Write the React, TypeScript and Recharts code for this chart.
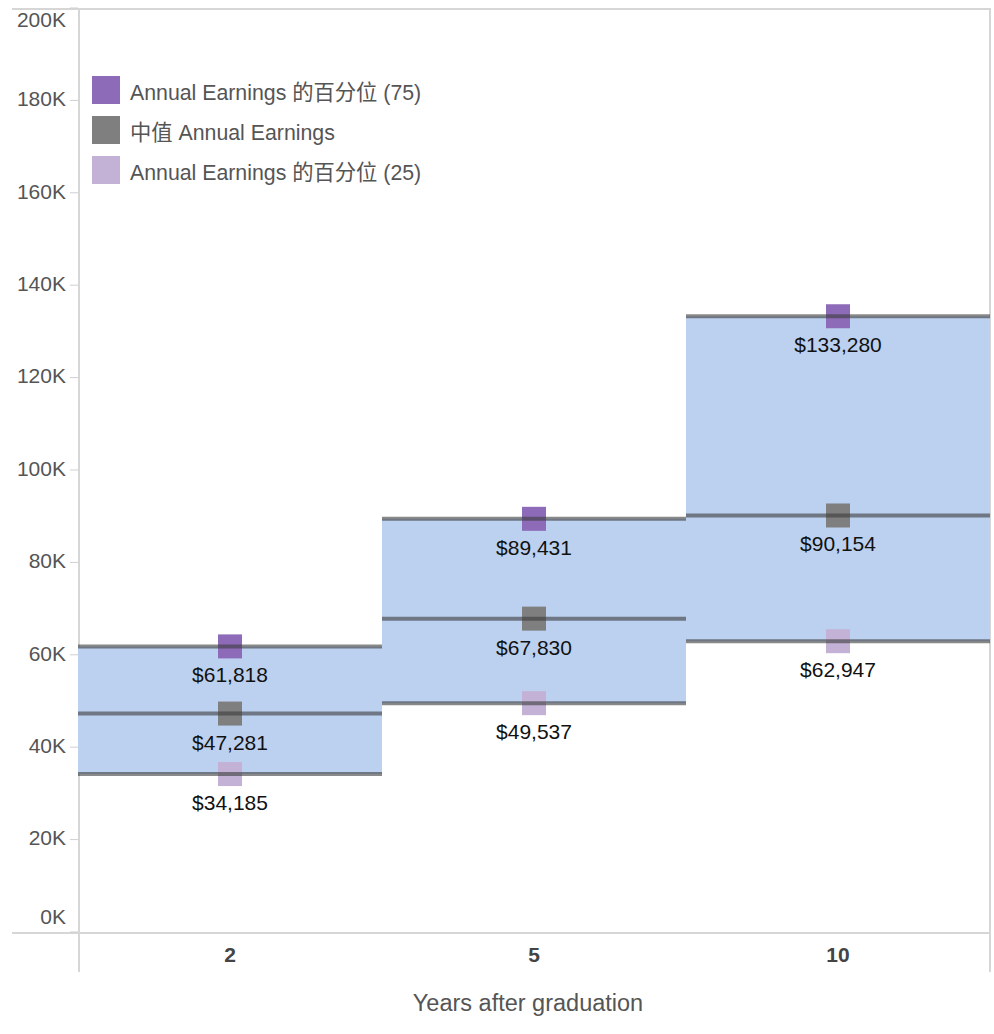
import React from "react";
import {
  ComposedChart,
  Bar,
  XAxis,
  YAxis,
  LabelList,
  Legend,
  Label,
  Customized,
} from "recharts";

const years = ["2", "5", "10"];
const p75 = [61818, 89431, 133280];
const median = [47281, 67830, 90154];
const p25 = [34185, 49537, 62947];
const yTicks = [0, 20000, 40000, 60000, 80000, 100000, 120000, 140000, 160000, 180000, 200000];

const seriesNames = [
  "Annual Earnings 的百分位 (75)",
  "中值 Annual Earnings",
  "Annual Earnings 的百分位 (25)",
];
const seriesColors = ["#8e6bb8", "#7f7f7f", "#c3b2d6"];

const data = years.map((year, i) => ({
  year,
  p75: p75[i],
  median: median[i],
  p25: p25[i],
}));

const FONT = '"Liberation Sans", Arial, "Noto Sans CJK SC", sans-serif';
const W = 994;
const H = 1034;
const MARGIN = { top: 8, right: 4, bottom: 0, left: 0 };
const Y_WIDTH = 78;
const X_HEIGHT = 102;
const FRAME = "#d6d6d6";

const money = (v: number) => `$${v.toLocaleString("en-US")}`;

// marker square + level line across the whole band
const LevelMark = (props: any) => {
  const { x, y, width, color } = props;
  const cx = x + width / 2;
  return (
    <g>
      <rect x={cx - 12} y={y - 12} width={24} height={24} fill={color} />
      <line
        x1={x}
        x2={x + width}
        y1={y}
        y2={y}
        stroke="#3a3a3a"
        strokeOpacity={0.6}
        strokeWidth={4}
      />
    </g>
  );
};

const ValueLabel = (props: any) => {
  const vb = props.viewBox || {};
  const x = props.x ?? vb.x;
  const y = props.y ?? vb.y;
  const width = props.width ?? vb.width;
  return (
    <text
      x={x + width / 2}
      y={y + 36}
      textAnchor="middle"
      fill="#111"
      fontSize={21}
      fontFamily={FONT}
    >
      {money(Number(props.value))}
    </text>
  );
};

const YTick = (props: any) => {
  const { x, y, payload } = props;
  let shift = 0;
  if (payload.value === 200000) shift = 13;
  if (payload.value === 0) shift = -14;
  return (
    <text
      x={x}
      y={y + shift}
      dy="0.28em"
      textAnchor="end"
      fill="#555"
      fontSize={21}
      fontFamily={FONT}
    >
      {payload.value / 1000}K
    </text>
  );
};

const XTick = (props: any) => {
  const { x, y, payload } = props;
  return (
    <text
      x={x}
      y={y + 30}
      textAnchor="middle"
      fill="#444"
      fontSize={21}
      fontWeight="bold"
      fontFamily={FONT}
    >
      {payload.value}
    </text>
  );
};

// light frame: top rule, baseline, left and right edges running into the axis area
const Frame = () => {
  const left = MARGIN.left + Y_WIDTH;
  const right = W - MARGIN.right;
  const top = MARGIN.top;
  const bottom = H - MARGIN.bottom - X_HEIGHT;
  return (
    <g>
      <line x1={12} x2={right} y1={top + 1} y2={top + 1} stroke={FRAME} strokeWidth={2} />
      <line x1={12} x2={right} y1={bottom + 1} y2={bottom + 1} stroke={FRAME} strokeWidth={2} />
      <line x1={left + 1} x2={left + 1} y1={top} y2={bottom + 40} stroke={FRAME} strokeWidth={2} />
      <line x1={right} x2={right} y1={top} y2={bottom + 40} stroke={FRAME} strokeWidth={2} />
    </g>
  );
};

const LegendBox = () => (
  <div style={{ fontFamily: FONT }}>
    {seriesNames.map((name, i) => (
      <div
        key={name}
        style={{ display: "flex", alignItems: "center", height: 28, marginBottom: 12 }}
      >
        <div style={{ width: 28, height: 28, background: seriesColors[i], marginRight: 10 }} />
        <span style={{ fontSize: 21.3, color: "#555", lineHeight: "28px", paddingTop: 5 }}>
          {name}
        </span>
      </div>
    ))}
  </div>
);

const levels = [
  { key: "p75", axis: "a", color: seriesColors[0] },
  { key: "median", axis: "b", color: seriesColors[1] },
  { key: "p25", axis: "c", color: seriesColors[2] },
];

const App = () => {
  return (
    <div style={{ position: "absolute", left: 0, top: 0, background: "#fff" }}>
      <ComposedChart
        width={W}
        height={H}
        data={data}
        margin={MARGIN}
        barCategoryGap={0}
        barGap={0}
      >
        <Customized component={Frame} />
        <XAxis
          xAxisId="main"
          dataKey="year"
          height={X_HEIGHT}
          axisLine={false}
          tickLine={false}
          tickSize={0}
          tickMargin={0}
          tick={<XTick />}
        >
          <Label
            value="Years after graduation"
            position="insideBottom"
            offset={23}
            dx={-6}
            fill="#555"
            fontSize={23.5}
            fontFamily={FONT}
          />
        </XAxis>
        {levels.map((l) => (
          <XAxis key={l.axis} xAxisId={l.axis} dataKey="year" height={0} hide />
        ))}
        <YAxis
          width={Y_WIDTH}
          domain={[0, 200000]}
          ticks={yTicks}
          interval={0}
          axisLine={false}
          tickLine={{ stroke: "#cfcfcf" }}
          tickSize={8}
          tickMargin={4}
          tick={<YTick />}
        />
        <Legend
          layout="vertical"
          align="center"
          verticalAlign="middle"
          wrapperStyle={{ left: 92, top: 76, width: 460 }}
          content={<LegendBox />}
        />
        <Bar
          xAxisId="main"
          dataKey={(d: any) => [d.p25, d.p75]}
          fill="#bcd1f0"
          isAnimationActive={false}
        />
        {levels.map((l) => (
          <Bar
            key={l.key}
            xAxisId={l.axis}
            dataKey={l.key}
            isAnimationActive={false}
            shape={(p: any) => <LevelMark {...p} color={l.color} />}
          >
            <LabelList dataKey={l.key} content={<ValueLabel />} />
          </Bar>
        ))}
      </ComposedChart>
    </div>
  );
};

export default App;
